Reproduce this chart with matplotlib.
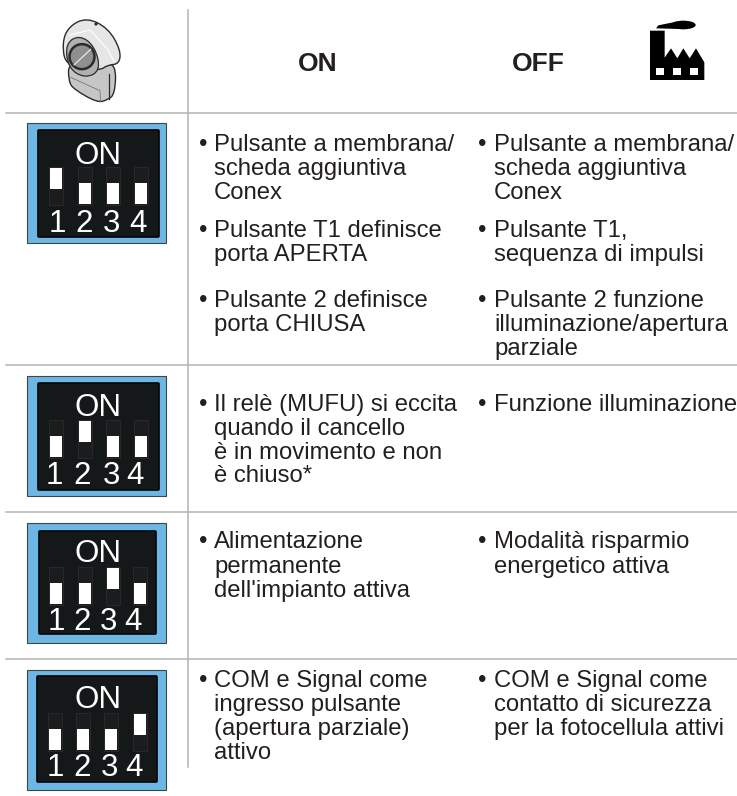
import matplotlib
matplotlib.use("Agg")
import matplotlib.pyplot as plt
from matplotlib.patches import Rectangle, FancyBboxPatch, Polygon, Circle, Ellipse, PathPatch
from matplotlib.path import Path

W, H = 737, 796
DPI = 100
plt.rcParams['font.family'] = ['Liberation Sans', 'DejaVu Sans']

header_labels = ["ON", "OFF"]
dip_numbers = ["1", "2", "3", "4"]
dip_active = [0, 1, 2, 3]
dip_label = "ON"

on_col = [
    [[("Pulsante a membrana/", 151), ("scheda aggiuntiva", 175), ("Conex", 199)],
     [("Pulsante T1 definisce", 237), ("porta APERTA", 261)],
     [("Pulsante 2 definisce", 307), ("porta CHIUSA", 331)]],
    [[("Il relè (MUFU) si eccita", 411), ("quando il cancello", 435), ("è in movimento e non", 459), ("è chiuso*", 482)]],
    [[("Alimentazione", 548), ("permanente", 573), ("dell'impianto attiva", 597)]],
    [[("COM e Signal come", 687), ("ingresso pulsante", 711), ("(apertura parziale)", 735), ("attivo", 759)]],
]
off_col = [
    [[("Pulsante a membrana/", 151), ("scheda aggiuntiva", 175), ("Conex", 199)],
     [("Pulsante T1,", 237), ("sequenza di impulsi", 261)],
     [("Pulsante 2 funzione", 307), ("illuminazione/apertura", 331), ("parziale", 355)]],
    [[("Funzione illuminazione", 411)]],
    [[("Modalità risparmio", 548), ("energetico attiva", 573)]],
    [[("COM e Signal come", 687), ("contatto di sicurezza", 711), ("per la fotocellula attivi", 735)]],
]

fig = plt.figure(figsize=(W / DPI, H / DPI), dpi=DPI, facecolor="white")
ax = fig.add_axes([0, 0, 1, 1])
ax.set_xlim(0, W)
ax.set_ylim(H, 0)
ax.axis("off")

GRID = "#b4b4b4"
ax.plot([188.5, 188.5], [10, 767], color=GRID, lw=1.1)
for y in [113, 365, 512, 659]:
    ax.plot([6, 737], [y, y], color=GRID, lw=1.1)

TXT = "#231f20"
for lab, x in zip(header_labels, [318, 538]):
    ax.text(x, 71, lab, fontsize=19, fontweight="bold", ha="center", va="baseline", color=TXT)

FS = 17.2
def column(blocks, xb, xt):
    for block in blocks:
        for i, (line, y) in enumerate(block):
            if i == 0:
                ax.text(xb, y, "•", fontsize=FS, ha="center", va="baseline", color=TXT)
            ax.text(xt, y, line, fontsize=FS, ha="left", va="baseline", color=TXT)

for blocks in on_col:
    column(blocks, 203, 214)
for blocks in off_col:
    column(blocks, 482, 494)

BLUE = "#6db7e5"
DARK = "#141819"
def dip(active, oy0, oy1, ix0, ix1, iy0, iy1, xs, dxs, well_y, on_y, num_y):
    ax.add_patch(Rectangle((27.5, oy0), 139, oy1 - oy0, fc=BLUE, ec="#444444", lw=0.8))
    ax.add_patch(FancyBboxPatch((ix0 + 1, iy0 + 1), ix1 - ix0 - 2, iy1 - iy0 - 2,
                                boxstyle="round,pad=1", fc=DARK, ec="#050505", lw=1.2))
    ax.text(98, on_y, dip_label, fontsize=22.5, color="white", ha="center", va="center_baseline")
    for i, (x, dx, n) in enumerate(zip(xs, dxs, dip_numbers)):
        ax.add_patch(Rectangle((x - 7, well_y), 14, 38, fc="#1a1c1d", ec="#2c2626", lw=0.8))
        top = well_y + 1 if i == active else well_y + 16
        ax.add_patch(Rectangle((x - 6.3, top), 12.6, 21, fc="white", ec="none"))
        ax.text(dx, num_y, n, fontsize=22.5, color="white", ha="center", va="center_baseline")

dip(dip_active[0], 123, 243, 38, 159, 130, 237, [56, 85, 113, 141], [57, 84, 111, 138], 167, 152, 220)
dip(dip_active[1], 376, 496, 38, 159, 383, 490, [56, 85, 113, 141], [54, 82, 111, 135], 420, 405, 473)
dip(dip_active[2], 523, 643, 39, 156, 531, 634, [56, 85, 113, 140], [56, 82, 108, 133], 567, 551, 618)
dip(dip_active[3], 670, 790, 37, 157, 676, 782, [55, 83, 111, 140], [55, 82, 109, 134], 713, 697, 765)

def z(pts):
    return [(px / 3, py / 3) for px, py in pts]

def smooth(pts, **kw):
    p = z(pts)
    n = len(p)
    mid = lambda a, b: ((a[0] + b[0]) / 2, (a[1] + b[1]) / 2)
    verts = [mid(p[-1], p[0])]
    codes = [Path.MOVETO]
    for i in range(n):
        verts += [p[i], mid(p[i], p[(i + 1) % n])]
        codes += [Path.CURVE3, Path.CURVE3]
    ax.add_patch(PathPatch(Path(verts, codes), **kw))

smooth([(205, 185), (206, 245), (222, 268), (292, 308), (322, 300), (345, 282), (348, 190), (300, 195)],
       fc="#c6c6c6", ec="#2b2b2b", lw=1.0)
ax.plot(*zip(*z([(212, 232), (300, 272), (302, 305)])), color="#777777", lw=0.6)
ax.plot(*zip(*z([(328, 222), (328, 296)])), color="#2b2b2b", lw=0.9)
smooth([(198, 200), (186, 130), (205, 80), (260, 52), (325, 85), (362, 150), (358, 192), (322, 195), (300, 212)],
       fc="#e6e6e6", ec="#2b2b2b", lw=1.0)
smooth([(205, 205), (196, 130), (240, 105), (285, 140), (302, 212), (255, 235)],
       fc="#b0b0b0", ec="#2b2b2b", lw=0.9)
ax.add_patch(Circle((246 / 3, 170 / 3), 12.5, fc="#8f8f8f", ec="#2b2b2b", lw=1.8))
ax.plot(*zip(*z([(222, 195), (272, 148)])), color="#f0f0f0", lw=0.8)
ax.plot(*zip(*z([(210, 105), (270, 90), (325, 150), (342, 185)])), color="white", lw=0.8)
ax.add_patch(Circle((288 / 3, 72 / 3), 1.6, fc="#2b2b2b", ec="none"))

# factory icon
fx = lambda v: 620 + v / 3
fy = lambda v: 10 + v / 3
fac = [(90, 210), (90, 62), (134, 62), (134, 143), (153, 115), (172, 145), (190, 115), (209, 145),
       (228, 115), (253, 157), (253, 210)]
ax.add_patch(Polygon([(fx(a), fy(b)) for a, b in fac], fc="black", ec="none"))
ax.add_patch(Ellipse((fx(190), fy(45)), 74 / 3, 26 / 3, fc="black", ec="none"))
ax.add_patch(Polygon([(fx(108), fy(55)), (fx(115), fy(46)), (fx(170), fy(35)), (fx(180), fy(57))],
                     fc="black", ec="none"))
for a in (108, 159, 210):
    ax.add_patch(Rectangle((fx(a), fy(174)), 24 / 3, 20 / 3, fc="white", ec="none"))

fig.savefig("out.png", dpi=DPI)
